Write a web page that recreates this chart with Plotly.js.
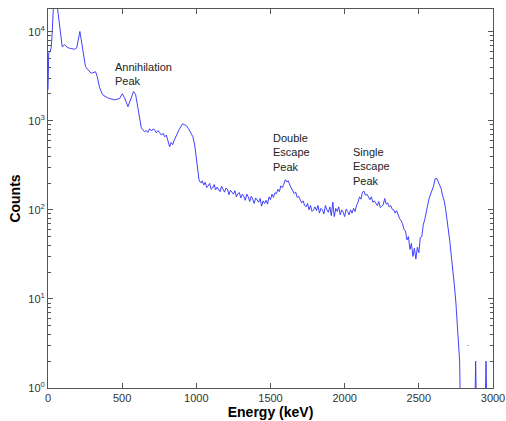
<!DOCTYPE html>
<html>
<head>
<meta charset="utf-8">
<script src="https://cdn.plot.ly/plotly-3.0.1.min.js"></script>
<style>html,body{margin:0;padding:0;background:#fff;}#plot{width:506px;height:421px;}</style>
</head>
<body>
<div id="plot"></div>
<script>
// Low-energy part of the spectrum (keV, counts)
var energyLow = [0, 5, 15, 22, 28, 36, 46, 58, 73, 84, 96, 111, 134, 150, 165, 180, 194, 206, 215, 224, 240, 253, 266, 280, 290, 300, 310, 321, 332, 348, 368, 385, 402, 425, 449, 465, 482, 501, 516, 539, 557, 577, 591, 606, 629, 640, 651, 662, 673, 685, 697, 708, 719, 730, 742, 753, 765, 776, 787, 798, 810, 820, 830, 840, 852, 863, 874, 885, 895, 906, 918, 933, 946, 960, 970, 977, 990, 1000, 1010, 1018, 1026, 1034];
var countsLow = [2230, 5800, 5960, 6780, 9500, 22000, 40000, 22000, 13600, 8790, 6780, 7140, 6610, 6500, 6440, 6350, 6610, 8130, 10070, 8130, 5240, 4040, 3800, 3550, 3420, 3460, 3520, 3550, 3120, 2350, 1960, 1870, 1810, 1760, 1720, 1750, 1770, 2010, 1810, 1440, 1720, 2135, 1960, 1330, 834, 790, 752, 780, 740, 813, 770, 810, 792, 735, 775, 733, 690, 725, 661, 690, 590, 510, 570, 540, 610, 680, 733, 800, 870, 925, 905, 879, 820, 752, 700, 661, 520, 394, 290, 217, 205, 201];

// High-energy part of the spectrum (keV, counts)
var energyHigh = [1040, 1050, 1060, 1070, 1080, 1090, 1100, 1110, 1120, 1130, 1140, 1150, 1160, 1170, 1180, 1190, 1200, 1210, 1220, 1230, 1240, 1250, 1260, 1270, 1280, 1290, 1300, 1310, 1320, 1330, 1340, 1350, 1360, 1370, 1380, 1390, 1400, 1410, 1420, 1430, 1440, 1450, 1460, 1470, 1480, 1490, 1500, 1510, 1520, 1530, 1540, 1550, 1560, 1570, 1580, 1590, 1600, 1610, 1620, 1630, 1640, 1650, 1660, 1670, 1680, 1690, 1700, 1710, 1720, 1730, 1740, 1750, 1760, 1770, 1780, 1790, 1800, 1810, 1820, 1830, 1840, 1850, 1860, 1870, 1880, 1890, 1900, 1910, 1920, 1930, 1940, 1950, 1960, 1970, 1980, 1990, 2000, 2010, 2020, 2030, 2040, 2050, 2060, 2070, 2080, 2090, 2100, 2110, 2120, 2130, 2140, 2150, 2160, 2170, 2180, 2190, 2200, 2210, 2220, 2230, 2240, 2250, 2260, 2270, 2280, 2290, 2300, 2310, 2320, 2330, 2340, 2350, 2360, 2370, 2380, 2390, 2400, 2410, 2420, 2430, 2440, 2450, 2460, 2470, 2480, 2490, 2500, 2510, 2520, 2530, 2540, 2550, 2560, 2570, 2580, 2590, 2600, 2610, 2620, 2630, 2640, 2650, 2660, 2670, 2680, 2690, 2700, 2710, 2720, 2730, 2740, 2750, 2760, 2770, 2775, 2778];
var countsHigh = [
  212, 190, 204, 178, 186, 198, 170, 176, 192, 168, 180, 172, 160, 184, 166, 158,
  176, 170, 148, 166, 158, 150, 164, 140, 152, 156, 136, 150, 142, 128, 150, 140, 124, 142, 132, 118,
  136, 128, 122, 134, 110, 126, 118, 128, 116, 140, 130, 150, 138, 156, 152, 170, 160, 186, 178, 194,
  218, 206, 212, 190, 176, 164, 152, 158, 138, 142, 130, 120, 126, 112, 108, 118, 100, 112, 96, 100,
  108, 98, 112, 92, 104, 100, 90, 112, 100, 94, 108, 86, 122, 84, 104, 96, 108, 88, 100, 94,
  84, 102, 96, 88, 100, 92, 104, 96, 112, 122, 140, 132, 158, 162, 146, 150, 140, 130, 140, 122,
  126, 118, 112, 124, 106, 110, 114, 134, 116, 120, 108, 112, 102, 100, 92, 98, 88, 80, 76, 70,
  60, 58, 46, 50, 36, 42, 30, 37, 28, 38, 33, 49, 50, 68, 78, 98, 114, 136, 150, 170,
  186, 224, 226, 208, 186, 174, 144, 128, 104, 80, 60, 43, 29, 21, 14, 9, 5, 3, 2, 1];

// Sparse channels beyond the end point (null = zero counts)
var energyTail = [2781, 2828, 2834, 2837, 2880, 2883, 2886, 2889, 2950, 2953, 2956];
var countsTail = [null, 3, 3, null, 1, 2, 1, null, 1, 2, 1];

var xTickVals = [0, 500, 1000, 1500, 2000, 2500, 3000];
var yTickVals = [1, 10, 100, 1000, 10000];
var yTickText = ['10<sup>0</sup>', '10<sup>1</sup>', '10<sup>2</sup>', '10<sup>3</sup>', '10<sup>4</sup>'];
var yMinorVals = [2,3,4,5,6,7,8,9,20,30,40,50,60,70,80,90,200,300,400,500,600,700,800,900,2000,3000,4000,5000,6000,7000,8000,9000];
var labelTexts = ["Annihilation<br>Peak", "Double<br>Escape<br>Peak", "Single<br>Escape<br>Peak"];
var labelEnergy = [435, 1506, 2046];
var labelLogCounts = [3.52, 2.64, 2.49];

var energy = energyLow.concat(energyHigh, energyTail);
var counts = countsLow.concat(countsHigh, countsTail);

var trace = {
  x: energy, y: counts, type: 'scatter', mode: 'lines',
  line: {color: 'rgb(55,55,255)', width: 0.95},
  connectgaps: false, hoverinfo: 'skip'
};

var FONT = 'Liberation Sans, Arial, sans-serif';

var annotations = labelTexts.map(function(t, i){
  return {x: labelEnergy[i], y: labelLogCounts[i], xref: 'x', yref: 'y', text: t,
    showarrow: false, xanchor: 'left', yanchor: 'middle', align: 'left',
    font: {family: FONT, size: 11, color: '#222'}};
});

var axisCommon = {
  showline: true, linecolor: '#555', linewidth: 1, mirror: 'allticks',
  ticks: 'inside', tickcolor: '#555', showgrid: false, zeroline: false,
  tickfont: {family: FONT, size: 11, color: '#333'}
};

var layout = {
  width: 506, height: 421,
  margin: {l: 48, r: 13, t: 9, b: 33},
  paper_bgcolor: '#fff', plot_bgcolor: '#fff',
  showlegend: false,
  xaxis: Object.assign({}, axisCommon, {
    range: [0, 3000], tickmode: 'array', tickvals: xTickVals, ticklen: 5,
    title: {text: 'Energy (keV)', standoff: 2, font: {family: FONT, size: 14, color: '#000', weight: 'bold'}}
  }),
  yaxis: Object.assign({}, axisCommon, {
    type: 'log', range: [0, 4.255], tickmode: 'array', tickvals: yTickVals, ticktext: yTickText, ticklen: 5,
    minor: {tickmode: 'array', tickvals: yMinorVals, ticks: 'inside', ticklen: 3, tickcolor: '#555', showgrid: false},
    title: {text: 'Counts', standoff: 4, font: {family: FONT, size: 14, color: '#000', weight: 'bold'}}
  }),
  annotations: annotations
};

Plotly.newPlot('plot', [trace], layout, {displayModeBar: false, staticPlot: true});
</script>
</body>
</html>
